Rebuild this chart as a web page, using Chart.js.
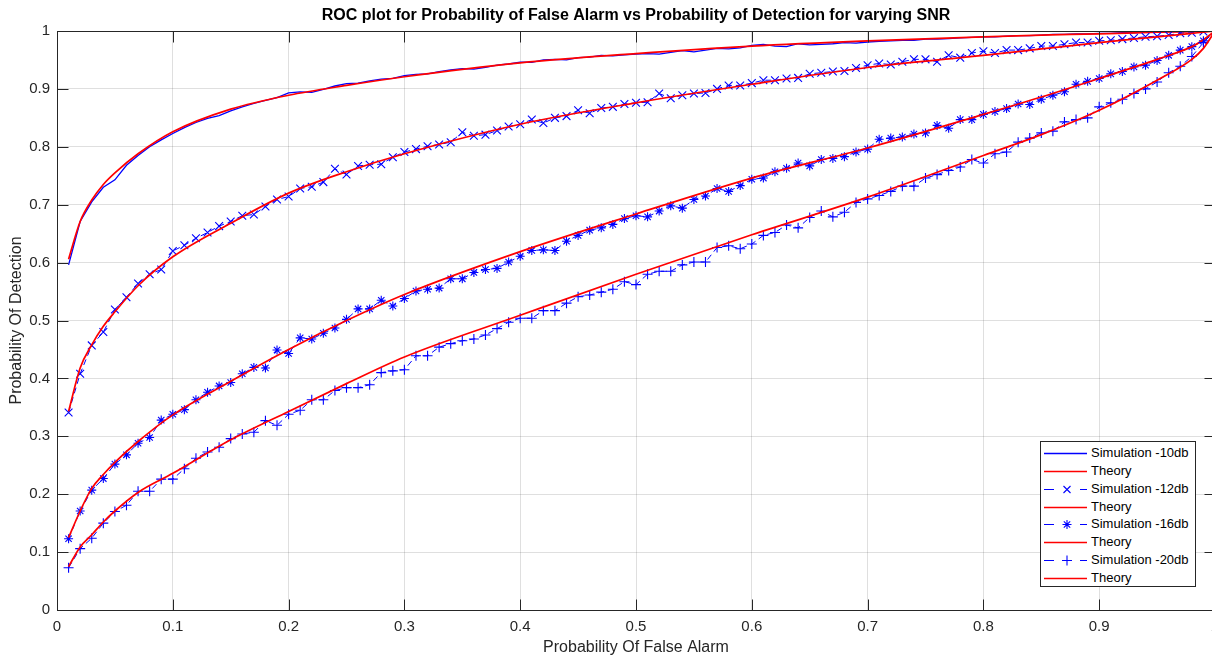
<!DOCTYPE html>
<html><head><meta charset="utf-8">
<script src="https://cdn.jsdelivr.net/npm/chart.js@4.4.0/dist/chart.umd.min.js"></script>
<style>
html,body{margin:0;padding:0;overflow:hidden;background:#fff;width:1212px;height:657px;}
#c{position:absolute;left:0;top:0;}
#legend{position:absolute;left:1040px;top:441px;width:156px;height:146px;border:1px solid #262626;background:#fff;font-family:'Liberation Sans',Arial,Helvetica,sans-serif;font-size:13px;color:#000;box-sizing:border-box;}
.row{position:absolute;left:0;height:18px;line-height:18px;width:152px;}
.row svg{position:absolute;left:0;top:0;}
.row span{position:absolute;left:50px;top:0;white-space:nowrap;}
</style></head>
<body>
<canvas id="c" width="1240" height="657"></canvas>
<div id="legend"></div>
<script>
// ---- data ----
const pfa = [0.01,0.02,0.03,0.04,0.05,0.06,0.07,0.08,0.09,0.10,
0.11,0.12,0.13,0.14,0.15,0.16,0.17,0.18,0.19,0.20,
0.21,0.22,0.23,0.24,0.25,0.26,0.27,0.28,0.29,0.30,
0.31,0.32,0.33,0.34,0.35,0.36,0.37,0.38,0.39,0.40,
0.41,0.42,0.43,0.44,0.45,0.46,0.47,0.48,0.49,0.50,
0.51,0.52,0.53,0.54,0.55,0.56,0.57,0.58,0.59,0.60,
0.61,0.62,0.63,0.64,0.65,0.66,0.67,0.68,0.69,0.70,
0.71,0.72,0.73,0.74,0.75,0.76,0.77,0.78,0.79,0.80,
0.81,0.82,0.83,0.84,0.85,0.86,0.87,0.88,0.89,0.90,
0.91,0.92,0.93,0.94,0.95,0.96,0.97,0.98,0.99,1.00];

const sim10 = [0.596,0.671,0.705,0.730,0.743,0.768,0.785,0.800,0.812,0.823,
0.833,0.842,0.849,0.854,0.862,0.869,0.875,0.880,0.885,0.893,
0.895,0.894,0.899,0.905,0.909,0.910,0.914,0.917,0.918,0.923,
0.925,0.926,0.930,0.933,0.935,0.934,0.937,0.941,0.943,0.946,
0.946,0.950,0.951,0.950,0.954,0.955,0.958,0.957,0.959,0.960,
0.961,0.960,0.963,0.966,0.964,0.967,0.970,0.969,0.971,0.975,
0.977,0.974,0.973,0.978,0.976,0.977,0.978,0.980,0.979,0.981,
0.982,0.983,0.984,0.984,0.986,0.986,0.987,0.988,0.989,0.990,
0.990,0.991,0.992,0.992,0.993,0.994,0.994,0.995,0.995,0.996,
0.996,0.997,0.997,0.998,0.998,0.999,0.999,0.999,1.000,1.000];

const sim12 = [0.341,0.408,0.457,0.480,0.519,0.540,0.564,0.580,0.588,0.620,
0.630,0.642,0.652,0.663,0.671,0.681,0.683,0.697,0.709,0.714,
0.728,0.731,0.739,0.762,0.752,0.767,0.769,0.770,0.782,0.791,
0.796,0.801,0.804,0.808,0.825,0.819,0.821,0.828,0.835,0.839,
0.847,0.841,0.850,0.853,0.863,0.858,0.867,0.869,0.874,0.876,
0.877,0.892,0.884,0.889,0.892,0.893,0.900,0.906,0.906,0.910,
0.915,0.915,0.918,0.919,0.926,0.928,0.930,0.931,0.936,0.941,
0.944,0.942,0.947,0.951,0.951,0.947,0.958,0.954,0.962,0.965,
0.962,0.967,0.967,0.970,0.974,0.974,0.977,0.980,0.980,0.983,
0.984,0.986,0.988,0.990,0.991,0.993,0.996,0.997,0.999,1.000];

const sim16 = [0.123,0.171,0.207,0.227,0.252,0.268,0.288,0.298,0.328,0.338,
0.346,0.363,0.376,0.387,0.393,0.408,0.419,0.418,0.449,0.443,
0.470,0.468,0.478,0.487,0.502,0.520,0.520,0.535,0.525,0.538,
0.551,0.554,0.556,0.572,0.572,0.583,0.588,0.590,0.601,0.611,
0.621,0.622,0.621,0.637,0.647,0.656,0.660,0.666,0.676,0.681,
0.679,0.689,0.698,0.694,0.709,0.715,0.728,0.723,0.733,0.744,
0.746,0.757,0.763,0.772,0.767,0.778,0.780,0.783,0.791,0.796,
0.813,0.815,0.817,0.822,0.824,0.837,0.832,0.847,0.847,0.856,
0.861,0.866,0.874,0.873,0.882,0.889,0.895,0.908,0.913,0.918,
0.926,0.930,0.938,0.941,0.949,0.958,0.967,0.973,0.983,1.000];

const sim20 = [0.073,0.106,0.124,0.150,0.170,0.181,0.205,0.205,0.226,0.226,
0.244,0.262,0.273,0.281,0.296,0.304,0.307,0.327,0.319,0.338,
0.345,0.363,0.363,0.379,0.384,0.384,0.389,0.410,0.413,0.415,
0.439,0.439,0.454,0.460,0.465,0.468,0.475,0.486,0.497,0.504,
0.504,0.517,0.517,0.530,0.541,0.544,0.549,0.554,0.567,0.562,
0.580,0.585,0.585,0.596,0.601,0.601,0.626,0.629,0.624,0.632,
0.647,0.652,0.665,0.660,0.678,0.689,0.679,0.687,0.704,0.710,
0.716,0.723,0.732,0.732,0.746,0.752,0.759,0.765,0.778,0.772,
0.788,0.791,0.808,0.815,0.824,0.827,0.843,0.847,0.850,0.869,
0.876,0.882,0.892,0.900,0.912,0.928,0.939,0.956,0.980,1.000];

const thX  = [0.01,0.02,0.03,0.04,0.05,0.07,0.10,0.15,0.20,0.25,0.30,0.40,0.50,0.60,0.70,0.80,0.85,0.90,0.95,0.98,0.99,1.00];
const th10 = [0.606,0.671,0.708,0.735,0.755,0.788,0.826,0.865,0.889,0.906,0.921,0.945,0.961,0.974,0.983,0.990,0.993,0.995,0.998,0.999,1.000,1.000];
const th12 = [0.343,0.418,0.458,0.490,0.515,0.560,0.610,0.668,0.720,0.757,0.788,0.839,0.876,0.908,0.937,0.958,0.969,0.980,0.990,0.996,0.998,1.000];
const th16 = [0.125,0.171,0.210,0.234,0.255,0.291,0.337,0.395,0.450,0.500,0.545,0.619,0.684,0.746,0.798,0.856,0.886,0.918,0.951,0.973,0.985,1.000];
const th20 = [0.075,0.109,0.130,0.152,0.171,0.203,0.236,0.294,0.343,0.391,0.437,0.509,0.580,0.648,0.713,0.785,0.821,0.863,0.915,0.951,0.970,1.000];

const tickValues = [0,0.1,0.2,0.3,0.4,0.5,0.6,0.7,0.8,0.9,1];
const xTickLabels = ['0','0.1','0.2','0.3','0.4','0.5','0.6','0.7','0.8','0.9','1'];
const yTickLabels = ['0','0.1','0.2','0.3','0.4','0.5','0.6','0.7','0.8','0.9','1'];

const titleText = 'ROC plot for Probability of False Alarm vs Probability of Detection for varying SNR';
const xTitle = 'Probability Of False Alarm';
const yTitle = 'Probability Of Detection';
const seriesLabels = ['Simulation -10db','Theory','Simulation -12db','Theory','Simulation -16db','Theory','Simulation -20db','Theory'];

// ---- chart ----
const BLUE = '#0000ff', RED = '#ff0000', AX = '#262626';
Chart.defaults.font.family = "'Liberation Sans', Arial, Helvetica, sans-serif";
const pts = (xs, ys) => xs.map((x, i) => ({x: x, y: ys[i]}));
function labelFor(v, labels){
  const i = tickValues.findIndex(t => Math.abs(t - v) < 1e-6);
  return i >= 0 ? labels[i] : '';
}
const simStyle = (style, r) => ({borderColor: BLUE, borderWidth: 1, borderDash: [6,4], pointStyle: style, pointRadius: r, pointHoverRadius: r, pointBorderColor: BLUE, pointBackgroundColor: BLUE, pointBorderWidth: 1.1});
const theoryStyle = {borderColor: RED, borderWidth: 1.7, pointRadius: 0, cubicInterpolationMode: 'monotone'};

const datasets = [
  Object.assign({label: seriesLabels[0], data: pts(pfa, sim10), borderColor: BLUE, borderWidth: 1.3, pointRadius: 0}, {order: 8}),
  Object.assign({label: seriesLabels[1], data: pts(thX, th10)}, theoryStyle, {order: 7}),
  Object.assign({label: seriesLabels[2], data: pts(pfa, sim12)}, simStyle('crossRot', 5.5), {order: 6}),
  Object.assign({label: seriesLabels[3], data: pts(thX, th12)}, theoryStyle, {order: 5}),
  Object.assign({label: seriesLabels[4], data: pts(pfa, sim16)}, simStyle('star', 4.5), {order: 4}),
  Object.assign({label: seriesLabels[5], data: pts(thX, th16)}, theoryStyle, {order: 3}),
  Object.assign({label: seriesLabels[6], data: pts(pfa, sim20)}, simStyle('cross', 5), {order: 2}),
  Object.assign({label: seriesLabels[7], data: pts(thX, th20)}, theoryStyle, {order: 1})
];

const boxPlugin = {
  id: 'matlabBox',
  afterDatasetsDraw(chart){
    const {ctx, chartArea: a, scales} = chart;
    const L = Math.round(a.left) + 0.5, R = Math.round(a.right) + 0.5, T = Math.round(a.top) + 0.5, B = Math.round(a.bottom) + 0.5;
    ctx.save();
    ctx.strokeStyle = AX; ctx.lineWidth = 1;
    ctx.beginPath();
    tickValues.forEach(v => {
      const px = Math.round(scales.x.getPixelForValue(v)) + 0.5;
      ctx.moveTo(px, B); ctx.lineTo(px, B - 11);
      ctx.moveTo(px, T); ctx.lineTo(px, T + 11);
      const py = Math.round(scales.y.getPixelForValue(v)) + 0.5;
      ctx.moveTo(L, py); ctx.lineTo(L + 11, py);
      ctx.moveTo(R, py); ctx.lineTo(R - 11, py);
    });
    ctx.stroke();
    ctx.strokeRect(L, T, R - L, B - T);
    ctx.restore();
  }
};

new Chart(document.getElementById('c'), {
  type: 'line',
  data: {datasets: datasets},
  options: {
    responsive: false, animation: false, devicePixelRatio: 1, events: [],
    layout: {padding: {left: 0, right: 25, top: 0, bottom: 0}},
    plugins: {
      legend: {display: false}, tooltip: {enabled: false},
      title: {display: true, fullSize: false, text: titleText, color: '#000', font: {size: 16, weight: 'bold'}, padding: {top: 6, bottom: 5.8}}
    },
    scales: {
      x: {type: 'linear', min: 0, max: 1,
        afterBuildTicks: s => { s.ticks = tickValues.map(v => ({value: v})); },
        afterFit: s => { s.height = 47; },
        ticks: {color: AX, font: {size: 15}, padding: 8, maxRotation: 0, autoSkip: false, callback: v => labelFor(v, xTickLabels)},
        grid: {color: 'rgba(38,38,38,0.15)', drawTicks: false},
        border: {display: false},
        title: {display: true, text: xTitle, color: AX, font: {size: 16}, padding: {top: 0, bottom: 0}}
      },
      y: {type: 'linear', min: 0, max: 1,
        afterBuildTicks: s => { s.ticks = tickValues.map(v => ({value: v})); },
        afterFit: s => { s.width = 57; },
        ticks: {color: AX, font: {size: 15}, padding: 7, autoSkip: false, callback: v => labelFor(v, yTickLabels)},
        grid: {color: 'rgba(38,38,38,0.15)', drawTicks: false},
        border: {display: false},
        title: {display: true, text: yTitle, color: AX, font: {size: 16}, padding: {top: 6.5, bottom: 0}}
      }
    }
  },
  plugins: [boxPlugin]
});

// ---- legend (HTML) ----
const legendKinds = ['solid','theory','x','theory','star','theory','plus','theory'];
const leg = document.getElementById('legend');
seriesLabels.forEach((lab, i) => {
  const k = legendKinds[i];
  const row = document.createElement('div');
  row.className = 'row';
  row.style.top = (12 + 17.85 * i - 9 - 1) + 'px';
  let svg = '<svg width="48" height="18" xmlns="http://www.w3.org/2000/svg">';
  if (k === 'solid') svg += `<line x1="3" y1="9.5" x2="46" y2="9.5" stroke="${BLUE}" stroke-width="1.3"/>`;
  else if (k === 'theory') svg += `<line x1="3" y1="9.5" x2="46" y2="9.5" stroke="${RED}" stroke-width="1.4"/>`;
  else {
    svg += `<line x1="3" y1="9.5" x2="13" y2="9.5" stroke="${BLUE}" stroke-width="1"/><line x1="39" y1="9.5" x2="46" y2="9.5" stroke="${BLUE}" stroke-width="1"/>`;
    const cx = 26, cy = 9.5;
    if (k === 'x') svg += `<path d="M${cx-3.5} ${cy-3.5}L${cx+3.5} ${cy+3.5}M${cx-3.5} ${cy+3.5}L${cx+3.5} ${cy-3.5}" stroke="${BLUE}" stroke-width="1.1"/>`;
    if (k === 'star') svg += `<path d="M${cx-4.5} ${cy}L${cx+4.5} ${cy}M${cx} ${cy-4.5}L${cx} ${cy+4.5}M${cx-3.2} ${cy-3.2}L${cx+3.2} ${cy+3.2}M${cx-3.2} ${cy+3.2}L${cx+3.2} ${cy-3.2}" stroke="${BLUE}" stroke-width="1.1"/>`;
    if (k === 'plus') svg += `<path d="M${cx-5} ${cy}L${cx+5} ${cy}M${cx} ${cy-5}L${cx} ${cy+5}" stroke="${BLUE}" stroke-width="1.1"/>`;
  }
  svg += '</svg>';
  row.innerHTML = svg + '<span>' + lab + '</span>';
  leg.appendChild(row);
});
</script>
</body></html>
